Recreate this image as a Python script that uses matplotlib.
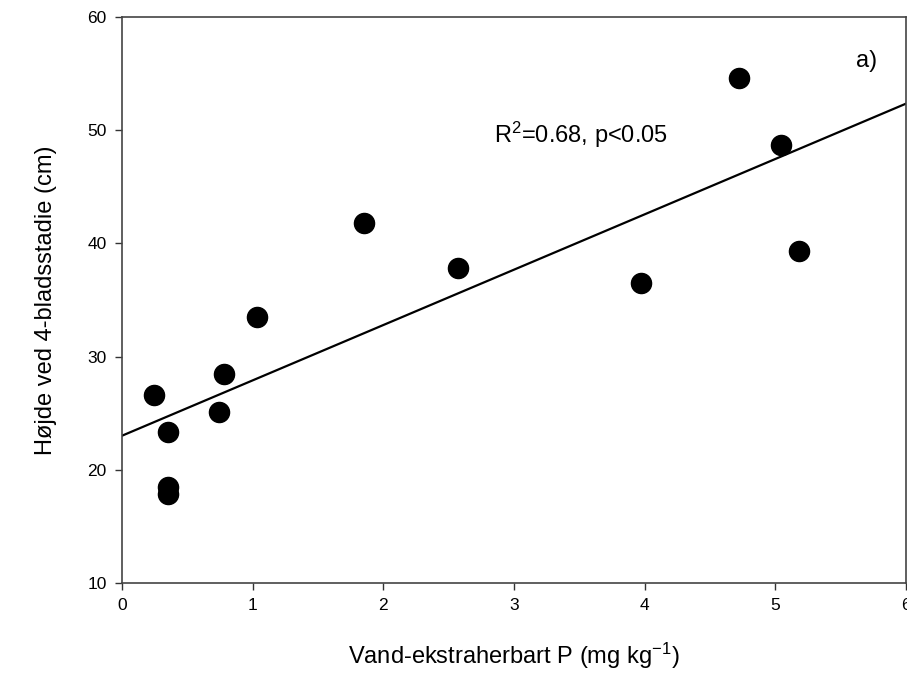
import numpy as np
import matplotlib
matplotlib.use("Agg")
import matplotlib.pyplot as plt

plt.rcParams['font.family'] = ['Liberation Sans', 'DejaVu Sans']
plt.rcParams['mathtext.default'] = 'regular'

# water-extractable P vs plant height at 4-leaf stage
p_water = [0.245, 0.352, 0.352, 0.352, 0.742, 0.783, 1.031, 1.854, 2.574, 3.97, 4.724, 5.041, 5.183]
height = [26.6, 23.3, 18.5, 17.9, 25.1, 28.5, 33.5, 41.8, 37.8, 36.5, 54.6, 48.7, 39.3]

slope, intercept = np.polyfit(p_water, height, 1)
xfit = np.array([0, 6])

fig = plt.figure(figsize=(9.07, 6.98), dpi=100)
ax = fig.add_axes([0.1345, 0.1648, 0.8644, 0.8109])

ax.scatter(p_water, height, s=210, color='black', zorder=3, clip_on=False)
ax.plot(xfit, intercept + slope * xfit, color='black', lw=1.6)

ax.set_xlim(0, 6)
ax.set_ylim(10, 60)
ax.set_xticks(range(0, 7))
ax.set_yticks(range(10, 61, 10))
ax.tick_params(direction='out', length=5, width=1, labelsize=12.5, pad=6, color='#333333')
for s in ax.spines.values():
    s.set_color('#444444')
    s.set_linewidth(1.2)

ax.set_xlabel('Vand-ekstraherbart P (mg kg$^{-1}$)', fontsize=17, labelpad=20)
ax.set_ylabel('Højde ved 4-bladsstadie (cm)', fontsize=17, labelpad=22)

ax.text(2.85, 49.6, 'R$^2$=0.68, p<0.05', fontsize=17, va='center')
ax.text(5.62, 56.1, 'a)', fontsize=17, va='center')

fig.savefig('out.png', dpi=100)
